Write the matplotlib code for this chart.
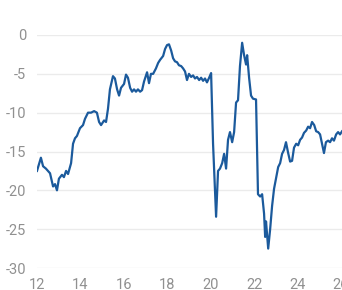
import matplotlib
matplotlib.use("Agg")
import matplotlib.pyplot as plt

years = [12.00, 12.18, 12.28, 12.41, 12.60, 12.74, 12.83, 12.92, 13.01, 13.15, 13.24, 13.34, 13.43, 13.57,
         13.66, 13.75, 13.84, 13.98, 14.12, 14.21, 14.35, 14.49, 14.63, 14.76, 14.86, 14.95, 15.09, 15.18,
         15.27, 15.36, 15.50, 15.59, 15.69, 15.78, 15.87, 16.01, 16.10, 16.19, 16.29, 16.38, 16.47, 16.56,
         16.65, 16.75, 16.84, 16.93, 17.07, 17.16, 17.25, 17.35, 17.48, 17.58, 17.67, 17.81, 17.90, 17.99,
         18.08, 18.18, 18.27, 18.36, 18.45, 18.54, 18.64, 18.73, 18.82, 18.91, 19.00, 19.10, 19.19, 19.28,
         19.37, 19.47, 19.56, 19.65, 19.74, 19.83, 19.93, 20.02, 20.11, 20.25, 20.34, 20.43, 20.53, 20.62,
         20.71, 20.80, 20.89, 20.99, 21.08, 21.17, 21.26, 21.35, 21.45, 21.54, 21.63, 21.68, 21.77, 21.86,
         21.95, 22.09, 22.18, 22.28, 22.37, 22.46, 22.51, 22.55, 22.65, 22.74, 22.83, 22.92, 23.01, 23.11,
         23.20, 23.29, 23.38, 23.47, 23.57, 23.66, 23.75, 23.84, 23.94, 24.03, 24.12, 24.21, 24.30, 24.40,
         24.49, 24.58, 24.67, 24.77, 24.86, 24.95, 25.04, 25.13, 25.22, 25.31, 25.41, 25.50, 25.59, 25.68,
         25.78, 25.87, 25.96, 26.05]
values = [-17.5, -15.8, -16.9, -17.2, -17.8, -19.5, -19.2, -20.0, -18.5, -18.0, -18.3, -17.5, -17.9, -16.5,
          -14.0, -13.3, -13.0, -12.0, -11.6, -10.8, -10.0, -10.0, -9.8, -10.0, -11.2, -11.6, -11.0, -11.2,
          -9.5, -7.0, -5.3, -5.6, -7.0, -7.8, -6.8, -6.3, -5.1, -5.5, -6.8, -7.3, -7.0, -7.3,
          -7.0, -7.3, -7.1, -6.0, -4.8, -6.2, -5.0, -5.0, -4.3, -3.6, -3.2, -2.7, -1.8, -1.3,
          -1.2, -2.0, -3.0, -3.4, -3.5, -3.9, -4.0, -4.3, -4.7, -5.8, -5.0, -5.4, -5.2, -5.6,
          -5.4, -5.8, -5.5, -5.9, -5.6, -6.1, -5.5, -4.9, -14.0, -23.4, -17.5, -17.2, -16.5, -15.3,
          -17.2, -13.5, -12.5, -13.8, -12.5, -8.7, -8.4, -4.0, -1.0, -2.6, -3.8, -2.6, -5.5, -7.8,
          -8.2, -8.3, -20.5, -20.8, -20.5, -23.0, -26.0, -24.0, -27.5, -25.0, -22.0, -19.8, -18.5, -17.0,
          -16.5, -15.3, -14.8, -13.8, -15.2, -16.3, -16.2, -14.5, -14.0, -14.2, -13.5, -13.2, -12.6, -12.3,
          -11.8, -12.0, -11.2, -11.6, -12.4, -12.5, -12.8, -14.0, -15.2, -13.8, -13.6, -13.8, -13.3, -13.6,
          -12.8, -12.5, -12.8, -12.4]

xticks = [12, 14, 16, 18, 20, 22, 24, 26]
yticks = [0, -5, -10, -15, -20, -25, -30]

plt.rcParams['font.family'] = ['Roboto', 'DejaVu Sans']
fig = plt.figure(figsize=(3.42, 2.9), dpi=100)
ax = fig.add_axes([37/342, 22/290, 305/342, 233/290])
ax.plot(years, values, color='#1b5a9c', lw=1.6, solid_joinstyle='round')
ax.set_xlim(12, 26.05)
ax.set_ylim(-30, 0)
ax.set_xticks(xticks)
ax.set_xticklabels([str(t) for t in xticks])
ax.set_yticks(yticks)
ax.set_yticklabels([str(t) for t in yticks])
for s in ax.spines.values():
    s.set_visible(False)
ax.grid(axis='y', color='#ebebeb', lw=1.0)
ax.grid(axis='x', visible=False)
ax.set_axisbelow(True)
ax.tick_params(axis='both', length=0, labelsize=10.5, labelcolor='#909090')
ax.tick_params(axis='y', pad=8)
ax.tick_params(axis='x', pad=7)
fig.savefig('out.png', dpi=100)
